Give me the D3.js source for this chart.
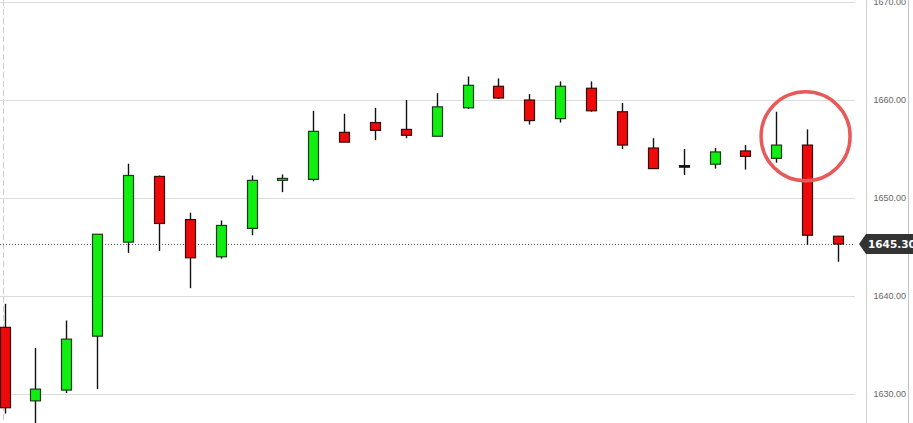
<!DOCTYPE html>
<html><head><meta charset="utf-8">
<script src="https://cdn.jsdelivr.net/npm/d3@7"></script>
<style>html,body{margin:0;padding:0;background:#fff;overflow:hidden}svg{display:block}</style>
</head><body><svg id="c" width="913" height="423"></svg>
<script>
const openV  = [1636.8,1629.3,1630.4,1635.9,1645.5,1652.2,1647.8,1644.0,1646.9,1651.8,1651.9,1656.7,1657.7,1657.0,1656.3,1659.2,1661.4,1660.0,1658.1,1661.2,1658.8,1655.1,1653.3,1653.45,1654.8,1654.05,1655.4,1646.1];
const highV  = [1639.2,1634.7,1637.5,1646.3,1653.5,1652.3,1648.5,1647.7,1652.3,1652.4,1658.9,1658.6,1659.2,1660.0,1660.7,1662.4,1662.2,1660.6,1661.9,1661.9,1659.7,1656.1,1655.0,1655.1,1655.4,1658.8,1657.0,1646.1];
const lowV   = [1628.0,1626.5,1630.1,1630.5,1644.4,1644.6,1640.8,1643.8,1646.2,1650.6,1651.7,1655.7,1655.9,1656.1,1656.3,1659.1,1660.1,1657.5,1657.7,1658.8,1655.0,1653.0,1652.35,1653.0,1652.9,1653.6,1645.2,1643.5];
const closeV = [1628.6,1630.5,1635.6,1646.3,1652.3,1647.4,1643.9,1647.2,1651.8,1652.0,1656.8,1655.7,1656.9,1656.4,1659.3,1661.5,1660.2,1657.9,1661.4,1658.9,1655.4,1653.0,1653.3,1654.7,1654.25,1655.4,1646.2,1645.3];
const tickValues = [1630,1640,1650,1660,1670];
const tickLabels = ["1630.00","1640.00","1650.00","1660.00","1670.00"];
const lastLabel = "1645.30";
const lastValue = 1645.3;

const svg = d3.select("#c");
const x = d3.scaleLinear().domain([0, openV.length-1]).range([4.6, 838]);
const y = d3.scaleLinear().domain([1630,1670]).range([394,2]);

svg.append("line").attr("x1",3.5).attr("x2",3.5).attr("y1",0).attr("y2",423)
  .attr("stroke","#ccc").attr("stroke-dasharray","6,3");
svg.selectAll("line.grid").data(tickValues).join("line").attr("class","grid")
  .attr("x1",0).attr("x2",855).attr("y1",d=>Math.round(y(d))+0.5).attr("y2",d=>Math.round(y(d))+0.5)
  .attr("stroke","#dcdcdc");
svg.append("line").attr("x1",866.5).attr("x2",866.5).attr("y1",0).attr("y2",423).attr("stroke","#d0d0d0");
svg.append("line").attr("x1",908.5).attr("x2",908.5).attr("y1",0).attr("y2",423).attr("stroke","#c4c4c4");
svg.selectAll("text.tick").data(tickValues).join("text").attr("class","tick")
  .attr("x",906).attr("y",d=>y(d)).attr("dy","0.35em").attr("text-anchor","end")
  .attr("font-family","Liberation Sans, Arial, sans-serif").attr("font-size",9).attr("fill","#666")
  .text((d,i)=>tickLabels[i]);

svg.append("line").attr("x1",0).attr("x2",853).attr("y1",Math.round(y(lastValue))+0.5).attr("y2",Math.round(y(lastValue))+0.5)
  .attr("stroke","#555").attr("stroke-dasharray","1,2");

const data = openV.map((o,i)=>({i,o,h:highV[i],l:lowV[i],c:closeV[i]}));
const g = svg.append("g");
g.selectAll("line.wick").data(data).join("line").attr("class","wick")
  .attr("x1",d=>Math.round(x(d.i))+0.5).attr("x2",d=>Math.round(x(d.i))+0.5)
  .attr("y1",d=>y(d.h)).attr("y2",d=>y(d.l)).attr("stroke","#111").attr("stroke-width",1.4);
g.selectAll("rect.body").data(data).join("rect").attr("class","body")
  .attr("x",d=>Math.round(x(d.i))-4.5).attr("width",10)
  .attr("y",d=>y(Math.max(d.o,d.c))).attr("height",d=>Math.max(1.5,Math.abs(y(d.o)-y(d.c))))
  .attr("fill",d=>d.c>d.o?"#11ee11":(d.c<d.o?"#ee0a0a":"#111"))
  .attr("stroke",d=>d.c>d.o?"#1c3a1c":(d.c<d.o?"#3a0a0a":"#111")).attr("stroke-width",1.2);

const ly = y(lastValue);
svg.append("path").attr("d",`M859,${ly} L866,${ly-10} L913,${ly-10} L913,${ly+10} L866,${ly+10} Z`).attr("fill","#333");
svg.append("text").attr("x",868).attr("y",ly).attr("dy","0.36em")
  .attr("font-family","DejaVu Sans, Verdana, sans-serif").attr("font-size",10.5).attr("font-weight","bold")
  .attr("fill","#fff").text(lastLabel);

svg.append("circle").attr("cx",x(25.95)).attr("cy",y(1656.3)).attr("r",44.5)
  .attr("fill","none").attr("stroke","#e85a5a").attr("stroke-width",3.5);
</script></body></html>
